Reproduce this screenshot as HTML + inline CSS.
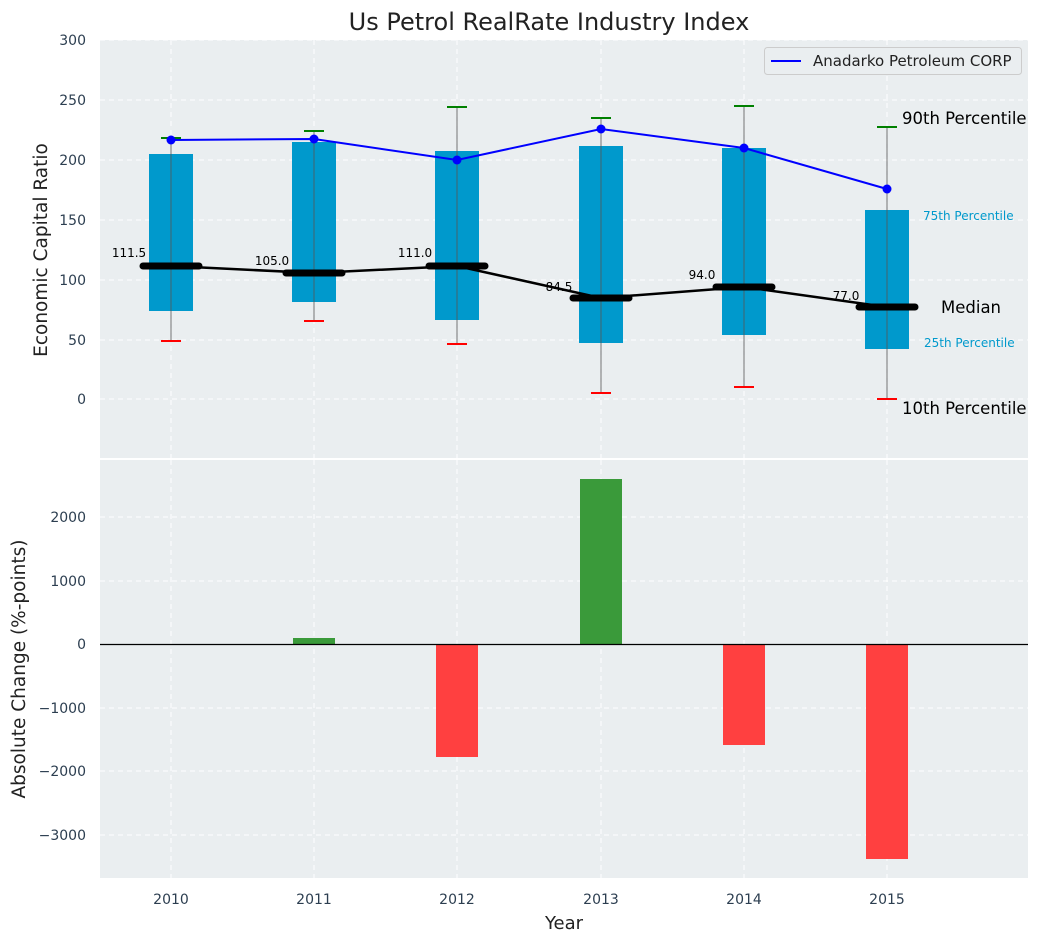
<!DOCTYPE html>
<html><head><meta charset="utf-8"><style>body{margin:0;background:#fff}svg{display:block;font-family:"DejaVu Sans","Liberation Sans",sans-serif}</style></head><body>
<svg width="1039" height="942" xmlns="http://www.w3.org/2000/svg">
<text x="549" y="30" font-size="24" text-anchor="middle" fill="#222">Us Petrol RealRate Industry Index</text>
<rect x="100" y="40" width="928" height="418" fill="#eaeef0"/>
<g stroke="#fff" stroke-dasharray="5,4" stroke-width="1">
<line x1="100" x2="1028" y1="40" y2="40"/><line x1="100" x2="1028" y1="100" y2="100"/><line x1="100" x2="1028" y1="160" y2="160"/><line x1="100" x2="1028" y1="220" y2="220"/><line x1="100" x2="1028" y1="280" y2="280"/><line x1="100" x2="1028" y1="340" y2="340"/><line x1="100" x2="1028" y1="399" y2="399"/>
<line x1="171" x2="171" y1="40" y2="458"/><line x1="314" x2="314" y1="40" y2="458"/><line x1="457" x2="457" y1="40" y2="458"/><line x1="601" x2="601" y1="40" y2="458"/><line x1="744" x2="744" y1="40" y2="458"/><line x1="887" x2="887" y1="40" y2="458"/>
</g>
<g font-size="14" fill="#2c3e50" text-anchor="end">
<text x="86" y="45">300</text><text x="86" y="105">250</text><text x="86" y="165">200</text><text x="86" y="225">150</text><text x="86" y="285">100</text><text x="86" y="345">50</text><text x="86" y="404">0</text>
</g>
<text transform="translate(47,250) rotate(-90)" font-size="18.5" text-anchor="middle" fill="#222">Economic Capital Ratio</text>
<g fill="#0099cc">
<rect x="149" y="154" width="44" height="157"/><rect x="292" y="142" width="44" height="160"/><rect x="435" y="151" width="44" height="169"/><rect x="579" y="146" width="44" height="197"/><rect x="722" y="148" width="44" height="187"/><rect x="865" y="210" width="44" height="139"/>
</g>
<g stroke="#555" stroke-width="1" opacity="0.8">
<line x1="171" x2="171" y1="138" y2="341"/><line x1="314" x2="314" y1="131" y2="321"/><line x1="457" x2="457" y1="107" y2="344"/><line x1="601" x2="601" y1="118" y2="393"/><line x1="744" x2="744" y1="106" y2="387"/><line x1="887" x2="887" y1="127" y2="399"/>
</g>
<g stroke="green" stroke-width="2">
<line x1="161" x2="181" y1="138" y2="138"/><line x1="304" x2="324" y1="131" y2="131"/><line x1="447" x2="467" y1="107" y2="107"/><line x1="591" x2="611" y1="118" y2="118"/><line x1="734" x2="754" y1="106" y2="106"/><line x1="877" x2="897" y1="127" y2="127"/>
</g>
<g stroke="red" stroke-width="2">
<line x1="161" x2="181" y1="341" y2="341"/><line x1="304" x2="324" y1="321" y2="321"/><line x1="447" x2="467" y1="344" y2="344"/><line x1="591" x2="611" y1="393" y2="393"/><line x1="734" x2="754" y1="387" y2="387"/><line x1="877" x2="897" y1="399" y2="399"/>
</g>
<polyline points="171,266 314,273 457,266 601,298 744,287 887,307" fill="none" stroke="#000" stroke-width="2.5"/>
<g stroke="#000" stroke-width="7" stroke-linecap="round">
<line x1="143" x2="199" y1="266" y2="266"/><line x1="286" x2="342" y1="273" y2="273"/><line x1="429" x2="485" y1="266" y2="266"/><line x1="573" x2="629" y1="298" y2="298"/><line x1="716" x2="772" y1="287" y2="287"/><line x1="859" x2="915" y1="307" y2="307"/>
</g>
<g font-size="12" fill="#000" text-anchor="middle">
<text x="129" y="257">111.5</text><text x="272" y="265">105.0</text><text x="415" y="257">111.0</text><text x="559" y="291">84.5</text><text x="702" y="279">94.0</text><text x="846" y="300">77.0</text>
</g>
<polyline points="171,140 314,139 457,160 601,129 744,148 887,189" fill="none" stroke="#0000ff" stroke-width="2"/>
<g fill="#0000ff"><circle cx="171" cy="140" r="4.5"/><circle cx="314" cy="139" r="4.5"/><circle cx="457" cy="160" r="4.5"/><circle cx="601" cy="129" r="4.5"/><circle cx="744" cy="148" r="4.5"/><circle cx="887" cy="189" r="4.5"/></g>
<text x="902" y="124" font-size="16.5" fill="#000">90th Percentile</text>
<text x="923" y="220" font-size="12" fill="#0099cc">75th Percentile</text>
<text x="941" y="313" font-size="16.5" fill="#000">Median</text>
<text x="924" y="347" font-size="12" fill="#0099cc">25th Percentile</text>
<text x="902" y="414" font-size="16.5" fill="#000">10th Percentile</text>
<rect x="764.5" y="47.5" width="257" height="27" rx="3" fill="#eaeef0" stroke="#ccc"/>
<line x1="771" x2="801" y1="61" y2="61" stroke="#0000ff" stroke-width="2"/>
<text x="813" y="66" font-size="15" fill="#222">Anadarko Petroleum CORP</text>
<rect x="100" y="460" width="928" height="418" fill="#eaeef0"/>
<g stroke="#fff" stroke-dasharray="5,4" stroke-width="1">
<line x1="100" x2="1028" y1="517" y2="517"/><line x1="100" x2="1028" y1="581" y2="581"/><line x1="100" x2="1028" y1="708" y2="708"/><line x1="100" x2="1028" y1="771" y2="771"/><line x1="100" x2="1028" y1="835" y2="835"/>
<line x1="171" x2="171" y1="460" y2="878"/><line x1="314" x2="314" y1="460" y2="878"/><line x1="457" x2="457" y1="460" y2="878"/><line x1="601" x2="601" y1="460" y2="878"/><line x1="744" x2="744" y1="460" y2="878"/><line x1="887" x2="887" y1="460" y2="878"/>
</g>
<rect x="293" y="638" width="42" height="6" fill="#3a9a3a"/>
<rect x="436" y="644" width="42" height="113" fill="#ff4040"/>
<rect x="580" y="479" width="42" height="165" fill="#3a9a3a"/>
<rect x="723" y="644" width="42" height="101" fill="#ff4040"/>
<rect x="866" y="644" width="42" height="215" fill="#ff4040"/>
<line x1="100" x2="1028" y1="644.5" y2="644.5" stroke="#000" stroke-width="1.2"/>
<g font-size="14" fill="#2c3e50" text-anchor="end">
<text x="86" y="522">2000</text><text x="86" y="586">1000</text><text x="86" y="649">0</text><text x="86" y="713">−1000</text><text x="86" y="776">−2000</text><text x="86" y="840">−3000</text>
</g>
<text transform="translate(25,669) rotate(-90)" font-size="18.5" text-anchor="middle" fill="#222">Absolute Change (%-points)</text>
<g font-size="14" fill="#2c3e50" text-anchor="middle">
<text x="171" y="904">2010</text><text x="314" y="904">2011</text><text x="457" y="904">2012</text><text x="601" y="904">2013</text><text x="744" y="904">2014</text><text x="887" y="904">2015</text>
</g>
<text x="564" y="929" font-size="18" text-anchor="middle" fill="#222">Year</text>
</svg>
</body></html>
